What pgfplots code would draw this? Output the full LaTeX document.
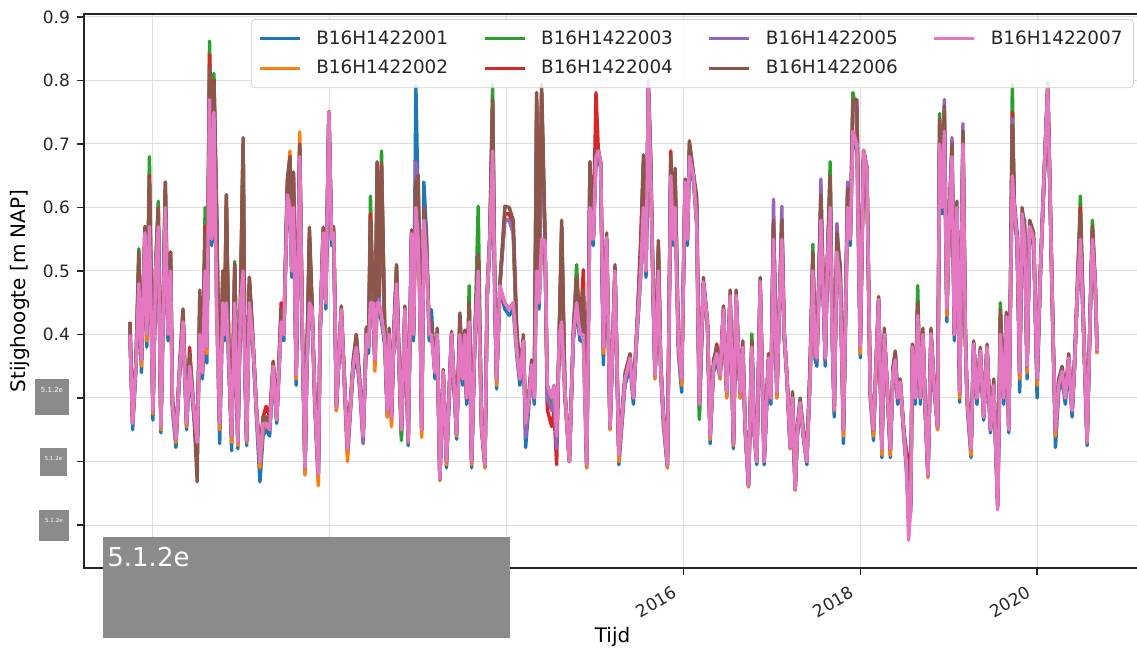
\documentclass[border=0pt]{standalone}
\usepackage{fontspec}
\setmainfont{DejaVu Sans}
\usepackage{pgfplots}
\usepackage{pgfplotstable}
\pgfplotsset{compat=1.18}
\definecolor{c1}{HTML}{1F77B4}
\definecolor{c2}{HTML}{FF7F0E}
\definecolor{c3}{HTML}{2CA02C}
\definecolor{c4}{HTML}{D62728}
\definecolor{c5}{HTML}{9467BD}
\definecolor{c6}{HTML}{8C564B}
\definecolor{c7}{HTML}{E377C2}
\definecolor{redact}{RGB}{138,139,141}
\pgfplotstableread{
t a b c d e f g
2009.74 .39 .40 .41 .42 .41 .42 .40
2009.77 .25 .26 .26 .26 .26 .27 .26
2009.81 .35 .36 .36 .36 .36 .37 .36
2009.84 .47 .48 .535 .52 .51 .53 .48
2009.87 .34 .35 .36 .36 .36 .37 .36
2009.91 .55 .56 .57 .57 .56 .57 .56
2009.93 .38 .39 .40 .40 .40 .41 .40
2009.96 .56 .57 .68 .65 .62 .645 .57
2010.00 .265 .275 .28 .28 .28 .29 .28
2010.03 .49 .50 .50 .50 .50 .51 .50
2010.06 .56 .57 .61 .60 .59 .60 .57
2010.09 .245 .25 .255 .26 .255 .26 .255
2010.14 .59 .60 .63 .64 .62 .64 .60
2010.17 .39 .40 .40 .40 .40 .41 .40
2010.20 .49 .50 .52 .53 .52 .53 .50
2010.22 .28 .29 .29 .29 .29 .30 .29
2010.26 .222 .23 .235 .24 .235 .24 .235
2010.30 .33 .34 .34 .34 .34 .35 .34
2010.34 .41 .42 .43 .44 .43 .44 .42
2010.38 .25 .255 .26 .26 .26 .27 .26
2010.415 .34 .35 .36 .38 .36 .37 .35
2010.45 .29 .30 .30 .30 .30 .31 .30
2010.50 .222 .23 .23 .235 .20 .168 .23
2010.53 .39 .40 .44 .46 .45 .47 .40
2010.56 .33 .34 .34 .34 .34 .35 .34
2010.59 .49 .50 .60 .57 .55 .56 .50
2010.61 .355 .37 .38 .38 .38 .39 .38
2010.64 .76 .77 .862 .841 .80 .819 .77
2010.665 .54 .55 .68 .69 .68 .70 .55
2010.69 .74 .75 .811 .80 .79 .797 .75
2010.72 .44 .45 .58 .59 .58 .60 .45
2010.755 .228 .25 .26 .26 .26 .27 .26
2010.79 .44 .45 .49 .50 .49 .50 .45
2010.81 .39 .40 .40 .40 .40 .41 .40
2010.83 .44 .60 .61 .62 .60 .62 .45
2010.86 .34 .35 .35 .35 .35 .36 .35
2010.89 .217 .23 .24 .24 .24 .25 .24
2010.925 .44 .45 .515 .51 .50 .51 .45
2010.96 .22 .225 .23 .23 .23 .24 .23
2010.99 .44 .45 .45 .45 .45 .46 .45
2011.02 .49 .50 .70 .70 .69 .71 .50
2011.04 .34 .35 .35 .35 .35 .36 .35
2011.06 .225 .23 .233 .233 .233 .24 .233
2011.09 .44 .45 .48 .49 .48 .49 .45
2011.13 .38 .39 .39 .39 .39 .40 .39
2011.17 .27 .28 .28 .28 .28 .29 .28
2011.21 .168 .19 .20 .20 .20 .21 .20
2011.245 .24 .25 .26 .27 .26 .27 .26
2011.28 .25 .26 .27 .287 .26 .27 .26
2011.32 .24 .25 .25 .27 .25 .26 .25
2011.36 .34 .35 .35 .358 .35 .355 .35
2011.40 .26 .265 .266 .27 .266 .27 .266
2011.45 .41 .42 .43 .45 .43 .44 .42
2011.48 .39 .40 .40 .40 .40 .41 .40
2011.52 .61 .62 .63 .64 .63 .645 .62
2011.55 .59 .689 .67 .68 .66 .68 .60
2011.57 .49 .50 .50 .50 .50 .51 .50
2011.59 .59 .62 .64 .65 .64 .656 .60
2011.62 .32 .33 .336 .336 .336 .34 .336
2011.66 .67 .719 .69 .70 .69 .70 .68
2011.69 .39 .40 .40 .40 .40 .41 .40
2011.72 .179 .179 .19 .19 .19 .20 .19
2011.74 .34 .35 .35 .35 .35 .36 .35
2011.77 .44 .46 .55 .56 .55 .569 .45
2011.80 .43 .44 .44 .44 .44 .45 .44
2011.83 .29 .29 .30 .30 .30 .31 .30
2011.87 .17 .162 .18 .18 .18 .19 .18
2011.89 .39 .40 .40 .40 .40 .41 .40
2011.925 .55 .56 .565 .565 .56 .569 .56
2011.955 .44 .45 .45 .45 .45 .46 .45
2011.99 .74 .75 .75 .75 .75 .751 .75
2012.02 .54 .55 .55 .55 .55 .56 .55
2012.045 .55 .56 .56 .56 .56 .57 .56
2012.075 .28 .28 .287 .287 .287 .29 .287
2012.13 .43 .44 .44 .44 .44 .445 .439
2012.20 .21 .20 .22 .22 .22 .23 .22
2012.264 .34 .35 .35 .35 .35 .36 .35
2012.30 .37 .38 .39 .40 .39 .40 .38
2012.34 .31 .32 .32 .32 .32 .33 .32
2012.377 .23 .235 .24 .24 .228 .25 .24
2012.415 .39 .40 .41 .41 .41 .412 .40
2012.438 .37 .38 .38 .38 .38 .39 .38
2012.46 .44 .45 .618 .59 .57 .58 .45
2012.49 .44 .45 .45 .45 .45 .46 .45
2012.51 .35 .342 .36 .36 .36 .37 .36
2012.536 .44 .45 .66 .67 .65 .672 .45
2012.558 .44 .45 .45 .45 .45 .46 .45
2012.585 .42 .43 .689 .67 .66 .67 .43
2012.623 .38 .39 .39 .39 .39 .40 .39
2012.65 .27 .27 .28 .28 .28 .29 .28
2012.672 .39 .40 .40 .40 .40 .41 .40
2012.698 .26 .255 .27 .27 .27 .28 .27
2012.725 .39 .40 .40 .40 .40 .41 .40
2012.755 .47 .48 .50 .50 .51 .51 .48
2012.785 .34 .35 .35 .35 .35 .36 .35
2012.81 .24 .24 .233 .25 .25 .26 .25
2012.85 .43 .44 .44 .44 .44 .445 .439
2012.887 .225 .23 .233 .233 .233 .24 .233
2012.925 .55 .56 .56 .56 .56 .565 .559
2012.947 .39 .40 .40 .40 .40 .41 .40
2012.974 .792 .60 .62 .63 .672 .64 .60
2013.00 .60 .55 .62 .63 .64 .651 .55
2013.026 .39 .40 .40 .40 .40 .41 .40
2013.04 .245 .238 .25 .25 .25 .26 .25
2013.064 .64 .58 .59 .59 .60 .60 .58
2013.094 .559 .52 .53 .53 .54 .55 .52
2013.125 .39 .40 .40 .40 .40 .41 .40
2013.15 .439 .40 .41 .41 .41 .42 .40
2013.19 .33 .34 .34 .34 .34 .35 .34
2013.215 .39 .40 .40 .40 .40 .41 .40
2013.245 .17 .17 .173 .173 .173 .18 .173
2013.283 .335 .34 .34 .34 .34 .345 .342
2013.32 .19 .195 .20 .20 .20 .21 .20
2013.377 .39 .40 .40 .40 .40 .405 .401
2013.434 .235 .24 .244 .244 .244 .25 .244
2013.472 .39 .40 .42 .43 .42 .434 .40
2013.502 .32 .33 .33 .33 .33 .34 .33
2013.528 .40 .40 .40 .40 .40 .407 .40
2013.547 .29 .30 .30 .30 .30 .31 .30
2013.577 .41 .42 .477 .45 .44 .45 .42
2013.604 .19 .195 .20 .20 .20 .21 .20
2013.642 .39 .40 .40 .40 .40 .41 .40
2013.679 .49 .50 .602 .52 .51 .526 .50
2013.717 .25 .25 .255 .255 .255 .26 .255
2013.755 .19 .19 .195 .195 .195 .20 .195
2013.78 .45 .46 .46 .46 .46 .47 .461
2013.81 .54 .55 .55 .55 .55 .56 .55
2013.842 .68 .69 .795 .76 .75 .77 .689
2013.868 .44 .45 .45 .45 .45 .46 .45
2013.887 .314 .32 .33 .33 .33 .34 .33
2013.925 .47 .47 .48 .48 .48 .48 .477
2013.98 .44 .45 .58 .59 .58 .602 .45
2014.03 .43 .44 .58 .59 .58 .60 .44
2014.075 .44 .45 .56 .57 .56 .58 .45
2014.113 .37 .38 .40 .41 .40 .417 .38
2014.15 .32 .33 .33 .33 .33 .34 .33
2014.19 .38 .39 .39 .39 .39 .40 .39
2014.215 .222 .25 .26 .26 .238 .26 .26
2014.253 .29 .30 .30 .30 .30 .31 .30
2014.283 .34 .35 .35 .35 .35 .36 .352
2014.313 .29 .30 .30 .30 .30 .31 .30
2014.34 .49 .50 .76 .77 .75 .781 .50
2014.366 .44 .45 .45 .45 .45 .50 .45
2014.396 .54 .55 .78 .78 .77 .795 .55
2014.434 .54 .55 .55 .55 .55 .56 .548
2014.46 .31 .31 .31 .282 .30 .32 .32
2014.51 .29 .29 .29 .255 .28 .30 .30
2014.536 .31 .31 .31 .28 .30 .32 .32
2014.566 .23 .23 .23 .195 .22 .24 .24
2014.596 .39 .40 .40 .40 .40 .41 .40
2014.623 .41 .42 .56 .57 .56 .58 .42
2014.66 .30 .30 .309 .309 .309 .31 .309
2014.71 .20 .20 .20 .20 .20 .21 .20
2014.755 .39 .40 .40 .40 .40 .41 .40
2014.792 .44 .45 .51 .49 .48 .49 .45
2014.83 .39 .40 .40 .40 .40 .41 .40
2014.868 .39 .40 .45 .502 .45 .47 .40
2014.906 .19 .19 .195 .195 .195 .20 .195
2014.943 .60 .60 .66 .672 .65 .672 .60
2014.98 .54 .55 .55 .55 .55 .56 .55
2015.011 .67 .68 .70 .781 .69 .69 .68
2015.038 .68 .68 .689 .689 .689 .69 .689
2015.064 .66 .67 .67 .67 .67 .672 .672
2015.094 .352 .37 .38 .38 .38 .39 .38
2015.132 .54 .55 .55 .55 .55 .56 .553
2015.17 .25 .25 .255 .255 .255 .26 .255
2015.226 .49 .50 .50 .50 .50 .51 .50
2015.27 .195 .20 .21 .21 .21 .22 .21
2015.34 .32 .33 .33 .33 .33 .34 .33
2015.396 .35 .36 .36 .36 .36 .37 .363
2015.434 .29 .30 .30 .30 .30 .31 .30
2015.472 .39 .40 .40 .40 .40 .41 .401
2015.517 .49 .50 .52 .553 .52 .53 .50
2015.547 .59 .60 .66 .67 .66 .683 .60
2015.577 .49 .50 .50 .50 .50 .51 .50
2015.604 .78 .79 .79 .79 .80 .79 .79
2015.63 .64 .65 .66 .67 .67 .68 .65
2015.66 .44 .45 .45 .45 .45 .46 .45
2015.679 .33 .33 .336 .336 .336 .34 .336
2015.717 .49 .50 .53 .54 .53 .548 .50
2015.743 .34 .35 .35 .35 .35 .36 .35
2015.774 .255 .26 .27 .27 .27 .28 .27
2015.819 .19 .19 .195 .195 .195 .20 .195
2015.857 .64 .65 .67 .689 .67 .68 .65
2015.887 .54 .55 .55 .55 .55 .56 .55
2015.906 .59 .60 .64 .65 .65 .662 .60
2015.943 .37 .38 .385 .385 .385 .39 .385
2015.98 .309 .32 .33 .33 .33 .34 .33
2016.019 .63 .64 .64 .64 .64 .645 .64
2016.045 .54 .55 .55 .55 .55 .56 .55
2016.068 .67 .68 .69 .70 .69 .705 .68
2016.113 .64 .65 .65 .65 .65 .655 .65
2016.15 .57 .58 .60 .61 .60 .618 .58
2016.18 .27 .28 .266 .29 .29 .30 .29
2016.226 .47 .48 .48 .48 .48 .49 .483
2016.272 .41 .41 .42 .42 .42 .42 .417
2016.302 .228 .235 .24 .24 .24 .25 .24
2016.34 .34 .35 .35 .35 .35 .36 .35
2016.377 .36 .37 .37 .385 .37 .38 .37
2016.415 .33 .33 .336 .336 .336 .34 .336
2016.453 .43 .44 .44 .44 .44 .445 .439
2016.49 .30 .30 .309 .309 .309 .31 .309
2016.528 .45 .46 .46 .46 .46 .47 .461
2016.566 .22 .225 .228 .228 .228 .235 .228
2016.596 .45 .46 .46 .46 .46 .47 .461
2016.642 .30 .30 .309 .309 .309 .31 .309
2016.672 .37 .38 .38 .38 .38 .39 .38
2016.698 .25 .25 .255 .255 .255 .26 .255
2016.736 .16 .16 .162 .162 .162 .17 .162
2016.774 .37 .38 .401 .39 .38 .39 .38
2016.80 .24 .25 .25 .25 .25 .26 .25
2016.83 .195 .20 .20 .20 .20 .21 .20
2016.868 .47 .48 .48 .48 .48 .49 .483
2016.913 .195 .20 .20 .20 .20 .21 .20
2016.962 .35 .36 .36 .36 .36 .37 .363
2016.989 .29 .30 .30 .30 .30 .31 .30
2017.019 .54 .55 .57 .58 .613 .58 .55
2017.057 .30 .30 .309 .309 .309 .31 .309
2017.087 .44 .45 .45 .45 .45 .46 .45
2017.113 .54 .55 .57 .58 .602 .58 .55
2017.14 .39 .40 .40 .40 .40 .41 .40
2017.17 .33 .33 .336 .336 .336 .34 .336
2017.208 .22 .22 .222 .222 .222 .23 .222
2017.234 .29 .30 .30 .30 .30 .31 .30
2017.264 .155 .155 .157 .157 .157 .165 .157
2017.29 .24 .25 .25 .25 .25 .26 .25
2017.32 .29 .29 .293 .293 .293 .30 .293
2017.358 .235 .24 .24 .24 .24 .25 .24
2017.396 .195 .20 .20 .20 .20 .21 .20
2017.434 .33 .34 .35 .35 .35 .363 .34
2017.464 .49 .50 .542 .52 .52 .53 .50
2017.49 .36 .37 .37 .37 .37 .38 .37
2017.51 .35 .36 .36 .36 .36 .37 .363
2017.555 .57 .58 .60 .61 .645 .62 .58
2017.585 .44 .45 .45 .45 .45 .46 .45
2017.604 .35 .36 .36 .36 .36 .37 .363
2017.63 .51 .52 .52 .52 .52 .53 .52
2017.66 .59 .60 .672 .64 .64 .65 .60
2017.683 .39 .40 .40 .40 .40 .41 .40
2017.706 .27 .28 .282 .282 .282 .29 .282
2017.736 .52 .53 .55 .55 .575 .56 .53
2017.774 .47 .48 .51 .49 .49 .50 .48
2017.81 .228 .24 .25 .25 .25 .26 .25
2017.857 .59 .60 .62 .62 .64 .63 .60
2017.887 .54 .55 .55 .55 .55 .56 .55
2017.917 .71 .72 .781 .76 .76 .77 .72
2017.962 .69 .70 .75 .76 .76 .77 .70
2018.00 .363 .37 .38 .38 .38 .39 .38
2018.038 .68 .68 .689 .689 .689 .69 .689
2018.075 .65 .66 .66 .66 .66 .665 .662
2018.113 .30 .30 .309 .309 .309 .31 .309
2018.15 .233 .24 .25 .25 .25 .26 .25
2018.208 .45 .45 .455 .455 .455 .46 .455
2018.245 .206 .21 .22 .22 .22 .23 .22
2018.272 .39 .40 .40 .40 .40 .41 .40
2018.302 .32 .32 .325 .325 .325 .33 .325
2018.34 .206 .21 .22 .22 .22 .23 .22
2018.37 .33 .34 .34 .34 .34 .35 .34
2018.396 .35 .36 .37 .37 .37 .374 .36
2018.423 .29 .30 .30 .30 .30 .31 .30
2018.453 .32 .32 .325 .325 .325 .33 .325
2018.491 .24 .245 .249 .249 .249 .255 .249
2018.52 .19 .20 .20 .22 .20 .21 .20
2018.547 .12 .13 .15 .20 .15 .15 .076
2018.57 .12 .12 .13 .14 .13 .13 .124
2018.59 .37 .38 .38 .38 .38 .385 .38
2018.623 .29 .30 .30 .30 .30 .31 .30
2018.65 .42 .43 .477 .45 .44 .45 .43
2018.68 .29 .30 .30 .30 .30 .31 .30
2018.709 .39 .40 .40 .40 .40 .41 .40
2018.736 .27 .28 .28 .28 .28 .29 .28
2018.766 .175 .175 .179 .179 .179 .185 .179
2018.80 .39 .40 .40 .40 .40 .41 .401
2018.83 .32 .33 .33 .33 .33 .34 .33
2018.875 .25 .25 .255 .255 .255 .26 .255
2018.898 .69 .70 .748 .73 .73 .74 .70
2018.925 .59 .60 .60 .60 .60 .61 .60
2018.951 .71 .72 .75 .75 .77 .76 .72
2018.98 .42 .43 .44 .44 .44 .45 .44
2019.011 .59 .60 .60 .60 .60 .61 .60
2019.038 .67 .68 .69 .69 .71 .70 .68
2019.064 .39 .40 .40 .40 .40 .41 .40
2019.094 .59 .60 .60 .60 .60 .61 .60
2019.125 .293 .30 .31 .31 .31 .32 .31
2019.162 .69 .70 .71 .71 .732 .72 .70
2019.189 .39 .40 .40 .40 .40 .41 .40
2019.208 .29 .30 .30 .30 .30 .31 .30
2019.253 .206 .21 .22 .22 .22 .23 .22
2019.283 .375 .38 .385 .385 .385 .39 .385
2019.32 .29 .30 .30 .30 .30 .31 .30
2019.358 .365 .37 .374 .374 .374 .38 .374
2019.396 .265 .27 .27 .27 .27 .28 .27
2019.434 .37 .38 .38 .38 .38 .385 .38
2019.472 .245 .25 .25 .25 .25 .26 .25
2019.51 .31 .32 .32 .32 .32 .33 .32
2019.555 .13 .13 .13 .13 .13 .14 .124
2019.585 .39 .40 .45 .43 .42 .44 .40
2019.623 .29 .30 .30 .30 .30 .31 .30
2019.653 .42 .42 .43 .43 .43 .435 .428
2019.68 .245 .25 .25 .25 .25 .26 .25
2019.698 .44 .45 .45 .45 .45 .46 .45
2019.72 .64 .65 .795 .75 .74 .73 .65
2019.743 .59 .60 .60 .60 .60 .61 .60
2019.774 .54 .55 .55 .55 .55 .56 .55
2019.804 .309 .33 .34 .34 .34 .35 .34
2019.83 .58 .59 .59 .59 .59 .60 .59
2019.86 .54 .55 .56 .56 .58 .57 .55
2019.887 .33 .34 .35 .35 .35 .36 .35
2019.917 .56 .57 .57 .57 .57 .58 .57
2019.962 .54 .55 .55 .55 .55 .56 .55
2020.00 .30 .32 .33 .33 .33 .34 .33
2020.038 .49 .50 .50 .50 .50 .51 .50
2020.075 .62 .63 .635 .635 .635 .64 .635
2020.121 .78 .79 .797 .79 .79 .79 .79
2020.15 .59 .60 .60 .60 .60 .61 .60
2020.18 .39 .40 .40 .40 .40 .41 .40
2020.208 .222 .24 .25 .25 .25 .26 .25
2020.245 .31 .32 .32 .32 .32 .33 .32
2020.283 .33 .34 .34 .34 .34 .35 .342
2020.32 .29 .30 .30 .30 .30 .31 .30
2020.358 .35 .36 .36 .36 .36 .37 .363
2020.396 .27 .28 .28 .28 .28 .29 .28
2020.423 .34 .35 .35 .35 .35 .36 .35
2020.453 .45 .46 .46 .46 .46 .47 .461
2020.49 .54 .55 .618 .60 .58 .59 .55
2020.528 .39 .40 .40 .40 .40 .41 .40
2020.566 .225 .23 .233 .233 .233 .24 .233
2020.604 .44 .45 .45 .45 .45 .46 .45
2020.626 .54 .55 .58 .57 .56 .57 .55
2020.66 .46 .47 .47 .47 .47 .48 .472
2020.679 .37 .37 .374 .374 .374 .38 .374
}\data

\begin{document}
\begin{tikzpicture}
\path[use as bounding box] (0,0) rectangle (568.5pt,326.5pt);
\begin{axis}[
  at={(42pt,42.5pt)}, anchor=south west,
  scale only axis, width=527.5pt, height=277pt,
  xmin=2009.22, xmax=2021.153, ymin=0.0323, ymax=0.9047,
  xtick={2010,2012,2014,2016,2018,2020},
  xticklabels={,,,2016,2018,2020},
  ytick={0.1,0.2,0.3,0.4,0.5,0.6,0.7,0.8,0.9},
  yticklabels={,,,0.4,0.5,0.6,0.7,0.8,0.9},
  grid=major, major grid style={gray!25, line width=0.5pt},
  tick align=outside, tick pos=left, major tick length=3.5pt,
  axis line style={black!85, line width=0.8pt},
  tick style={black!85, line width=0.6pt},
  ticklabel style={font=\fontsize{8.5}{10}\selectfont, text=black!85},
  xticklabel style={xshift=-4.4pt, yshift=-0.5pt, rotate=30, anchor=north east},
  xlabel={Tijd}, ylabel={Stijghoogte [m NAP]},
  label style={font=\fontsize{9.5}{11}\selectfont, text=black!85},
  every axis x label/.style={at={(axis description cs:0.501,-0.1245)}, anchor=center},
  every axis y label/.style={at={(axis description cs:-0.0607,0.5)}, anchor=center, rotate=90},
  legend columns=2, transpose legend,
  legend style={at={(axis description cs:1,1)}, xshift=-2.5pt, yshift=-2.5pt, anchor=north east,
    draw=gray!35, rounded corners=2pt, fill=white, fill opacity=0.85, text opacity=1,
    text=black!85,
    font=\fontsize{9.2}{11}\selectfont,
    /tikz/every odd column/.append style={column sep=5.5pt},
    /tikz/every even column/.append style={column sep=15.5pt},
    row sep=2.5pt, inner sep=3.5pt},
  legend cell align=left,
  legend image code/.code={\draw[#1, line width=1.5pt] (0pt,0pt) -- (20pt,0pt);},
  every axis plot/.append style={line width=1.7pt, line join=round},
]
\addplot[c1] table[x=t,y=a] {\data};
\addlegendentry{B16H1422001}
\addplot[c2] table[x=t,y=b] {\data};
\addlegendentry{B16H1422002}
\addplot[c3] table[x=t,y=c] {\data};
\addlegendentry{B16H1422003}
\addplot[c4] table[x=t,y=d] {\data};
\addlegendentry{B16H1422004}
\addplot[c5] table[x=t,y=e] {\data};
\addlegendentry{B16H1422005}
\addplot[c6] table[x=t,y=f] {\data};
\addlegendentry{B16H1422006}
\addplot[c7] table[x=t,y=g] {\data};
\addlegendentry{B16H1422007}
\end{axis}
\fill[redact] (51.5pt,7.5pt) rectangle (255pt,58pt);
\node[anchor=west, text=white, font=\fontsize{13}{15}\selectfont, inner sep=0pt] at (53.5pt,48pt) {5.1.2e};
\fill[redact] (17.5pt,119pt) rectangle (34.5pt,137pt);
\node[text=white, font=\fontsize{3.5}{4}\selectfont, inner sep=0pt] at (26pt,131.5pt) {5.1.2e};
\fill[redact] (20pt,88.5pt) rectangle (33.5pt,102.5pt);
\node[text=white, font=\fontsize{2.8}{3}\selectfont, inner sep=0pt] at (26.75pt,97.5pt) {5.1.2e};
\fill[redact] (19.5pt,56pt) rectangle (34.5pt,71.5pt);
\node[text=white, font=\fontsize{2.8}{3}\selectfont, inner sep=0pt] at (27pt,66.5pt) {5.1.2e};
\end{tikzpicture}
\end{document}
